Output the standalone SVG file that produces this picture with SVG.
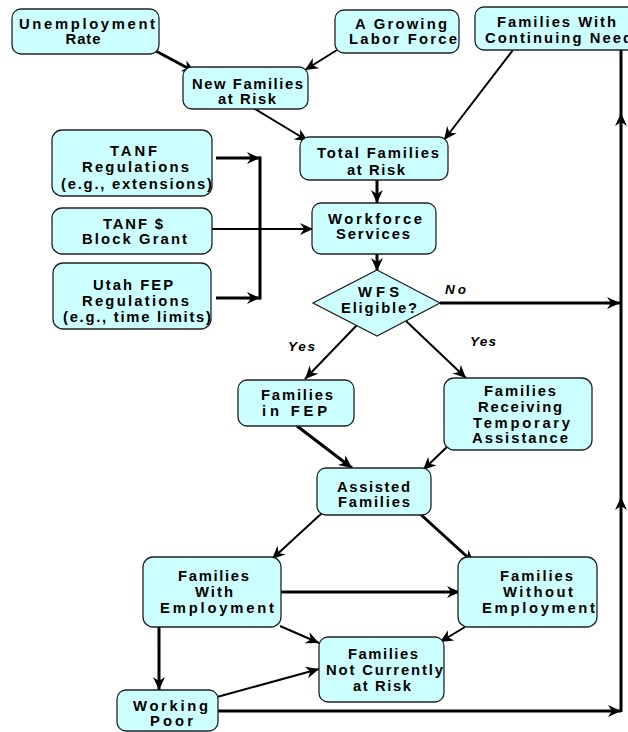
<svg xmlns="http://www.w3.org/2000/svg" width="628" height="732" viewBox="0 0 628 732">
<defs>
<marker id="ah" markerUnits="userSpaceOnUse" markerWidth="14" markerHeight="12" refX="13" refY="6" orient="auto" overflow="visible">
<path d="M0,0 L13,6 L0,12 L4,6 Z" fill="#000"/>
</marker>
<style>
.box{fill:#ccffff;stroke:#222;stroke-width:1.3}
.t{font-family:"Liberation Sans",Arial,sans-serif;font-weight:bold;font-size:14.8px;fill:#000;text-anchor:middle}
.lbl{font-family:"Liberation Sans",Arial,sans-serif;font-weight:bold;font-style:italic;font-size:13.5px;fill:#000}
.c{fill:none;stroke:#000;stroke-width:2}
.k{fill:none;stroke:#000;stroke-width:3}
.m{marker-end:url(#ah)}
</style>
</defs>
<rect width="628" height="732" fill="#fff"/>
<g id="connectors">
<line class="k m" x1="154" y1="50" x2="195" y2="72"/>
<line class="c m" x1="337" y1="50" x2="305" y2="70"/>
<line class="c m" x1="250" y1="106" x2="308" y2="141"/>
<line class="c m" x1="513" y1="50" x2="444" y2="140"/>
<line class="k m" x1="377" y1="180" x2="377" y2="203"/>
<line class="k m" x1="377" y1="254" x2="377" y2="271"/>
<line class="k m" x1="216" y1="158" x2="260" y2="158"/>
<line class="k m" x1="216" y1="298" x2="260" y2="298"/>
<line class="k" x1="260" y1="156.5" x2="260" y2="299.5"/>
<line class="c m" x1="212" y1="229" x2="313" y2="229"/>
<line class="k m" x1="440" y1="303" x2="620" y2="303"/>
<line class="c m" x1="357" y1="325" x2="305" y2="379"/>
<line class="c m" x1="406" y1="321" x2="466" y2="378"/>
<line class="k m" x1="297" y1="426" x2="352" y2="468"/>
<line class="c m" x1="450" y1="444" x2="423" y2="470"/>
<line class="c m" x1="322" y1="513" x2="272" y2="559"/>
<line class="k m" x1="418" y1="512" x2="474" y2="563"/>
<line class="k m" x1="281" y1="592" x2="460" y2="592"/>
<line class="c m" x1="280" y1="626" x2="319" y2="643"/>
<line class="c m" x1="465" y1="627" x2="440" y2="642"/>
<line class="k m" x1="159" y1="627" x2="159" y2="690"/>
<line class="c m" x1="217" y1="697" x2="319" y2="669"/>
<line class="k m" x1="218" y1="711" x2="621" y2="711"/>
<line class="k m" x1="621" y1="712" x2="621" y2="497"/>
<line class="k m" x1="621" y1="497" x2="621" y2="113"/>
<line class="k" x1="621" y1="113" x2="621" y2="49"/>
</g>
<g id="unemployment-rate">
<rect class="box" x="12" y="9" width="147" height="45" rx="9"/>
<text class="t" x="87" y="29" textLength="136" lengthAdjust="spacing">Unemployment</text>
<text class="t" x="83" y="44" textLength="35" lengthAdjust="spacing">Rate</text>
</g>
<g id="new-families-at-risk">
<rect class="box" x="183" y="67" width="125" height="42" rx="9"/>
<text class="t" x="247.5" y="89" textLength="111" lengthAdjust="spacing">New Families</text>
<text class="t" x="247" y="104" textLength="58" lengthAdjust="spacing">at Risk</text>
</g>
<g id="growing-labor-force">
<rect class="box" x="335" y="10" width="124" height="43" rx="9"/>
<text class="t" x="401" y="29" textLength="92" lengthAdjust="spacing">A Growing</text>
<text class="t" x="403" y="44" textLength="108" lengthAdjust="spacing">Labor Force</text>
</g>
<g id="families-continuing-need">
<rect class="box" x="475" y="7" width="175" height="43" rx="9"/>
<text class="t" x="556.5" y="27" textLength="119" lengthAdjust="spacing">Families With</text>
<text class="t" x="558.5" y="43" textLength="147" lengthAdjust="spacing">Continuing Need</text>
</g>
<g id="tanf-regulations">
<rect class="box" x="52" y="130" width="160" height="66" rx="10"/>
<text class="t" x="133.5" y="156" textLength="47" lengthAdjust="spacing">TANF</text>
<text class="t" x="135.5" y="172" textLength="107" lengthAdjust="spacing">Regulations</text>
<text class="t" x="136.5" y="189" textLength="151" lengthAdjust="spacing">(e.g., extensions)</text>
</g>
<g id="tanf-block-grant">
<rect class="box" x="52" y="208" width="160" height="46" rx="10"/>
<text class="t" x="133" y="229" textLength="60" lengthAdjust="spacing">TANF $</text>
<text class="t" x="134.5" y="244" textLength="105" lengthAdjust="spacing">Block Grant</text>
</g>
<g id="utah-fep-regulations">
<rect class="box" x="53" y="263" width="158" height="66" rx="10"/>
<text class="t" x="133" y="290" textLength="80" lengthAdjust="spacing">Utah FEP</text>
<text class="t" x="135.5" y="306" textLength="107" lengthAdjust="spacing">Regulations</text>
<text class="t" x="137" y="322" textLength="148" lengthAdjust="spacing">(e.g., time limits)</text>
</g>
<g id="total-families-at-risk">
<rect class="box" x="300" y="137" width="148" height="43" rx="9"/>
<text class="t" x="378" y="158" textLength="122" lengthAdjust="spacing">Total Families</text>
<text class="t" x="376" y="175" textLength="58" lengthAdjust="spacing">at Risk</text>
</g>
<g id="workforce-services">
<rect class="box" x="312" y="203" width="124" height="51" rx="9"/>
<text class="t" x="375" y="224" textLength="94" lengthAdjust="spacing">Workforce</text>
<text class="t" x="373" y="239" textLength="74" lengthAdjust="spacing">Services</text>
</g>
<g id="wfs-eligible">
<polygon class="box" points="377,270 440,303 377,336 313,303"/>
<text class="t" x="378.5" y="297" textLength="41" lengthAdjust="spacing">WFS</text>
<text class="t" x="379" y="313" textLength="76" lengthAdjust="spacing">Eligible?</text>
</g>
<g id="labels">
<text class="lbl" x="445" y="294" textLength="21" lengthAdjust="spacing">No</text>
<text class="lbl" x="288" y="351" textLength="27" lengthAdjust="spacing">Yes</text>
<text class="lbl" x="470" y="346" textLength="26" lengthAdjust="spacing">Yes</text>
</g>
<g id="families-in-fep">
<rect class="box" x="238" y="380" width="116" height="46" rx="9"/>
<text class="t" x="297" y="400" textLength="72" lengthAdjust="spacing">Families</text>
<text class="t" x="294.5" y="416" textLength="65" lengthAdjust="spacing">in FEP</text>
</g>
<g id="families-receiving-temporary-assistance">
<rect class="box" x="444" y="378" width="148" height="72" rx="10"/>
<text class="t" x="520" y="396" textLength="72" lengthAdjust="spacing">Families</text>
<text class="t" x="520" y="412" textLength="84" lengthAdjust="spacing">Receiving</text>
<text class="t" x="521.5" y="428" textLength="97" lengthAdjust="spacing">Temporary</text>
<text class="t" x="520" y="443" textLength="96" lengthAdjust="spacing">Assistance</text>
</g>
<g id="assisted-families">
<rect class="box" x="317" y="468" width="114" height="47" rx="9"/>
<text class="t" x="373.5" y="492" textLength="73" lengthAdjust="spacing">Assisted</text>
<text class="t" x="374" y="507" textLength="72" lengthAdjust="spacing">Families</text>
</g>
<g id="families-with-employment">
<rect class="box" x="143" y="557" width="138" height="70" rx="10"/>
<text class="t" x="213.5" y="581" textLength="71" lengthAdjust="spacing">Families</text>
<text class="t" x="214" y="597" textLength="38" lengthAdjust="spacing">With</text>
<text class="t" x="217" y="613" textLength="114" lengthAdjust="spacing">Employment</text>
</g>
<g id="families-without-employment">
<rect class="box" x="458" y="557" width="139" height="70" rx="10"/>
<text class="t" x="536.5" y="581" textLength="73" lengthAdjust="spacing">Families</text>
<text class="t" x="538" y="597" textLength="70" lengthAdjust="spacing">Without</text>
<text class="t" x="538.5" y="613" textLength="113" lengthAdjust="spacing">Employment</text>
</g>
<g id="families-not-currently-at-risk">
<rect class="box" x="319" y="637" width="125" height="65" rx="9"/>
<text class="t" x="383" y="659" textLength="70" lengthAdjust="spacing">Families</text>
<text class="t" x="384.5" y="675" textLength="117" lengthAdjust="spacing">Not Currently</text>
<text class="t" x="382" y="691" textLength="58" lengthAdjust="spacing">at Risk</text>
</g>
<g id="working-poor">
<rect class="box" x="117" y="690" width="101" height="41" rx="9"/>
<text class="t" x="170.5" y="711" textLength="75" lengthAdjust="spacing">Working</text>
<text class="t" x="171.5" y="726" textLength="43" lengthAdjust="spacing">Poor</text>
</g>
</svg>
